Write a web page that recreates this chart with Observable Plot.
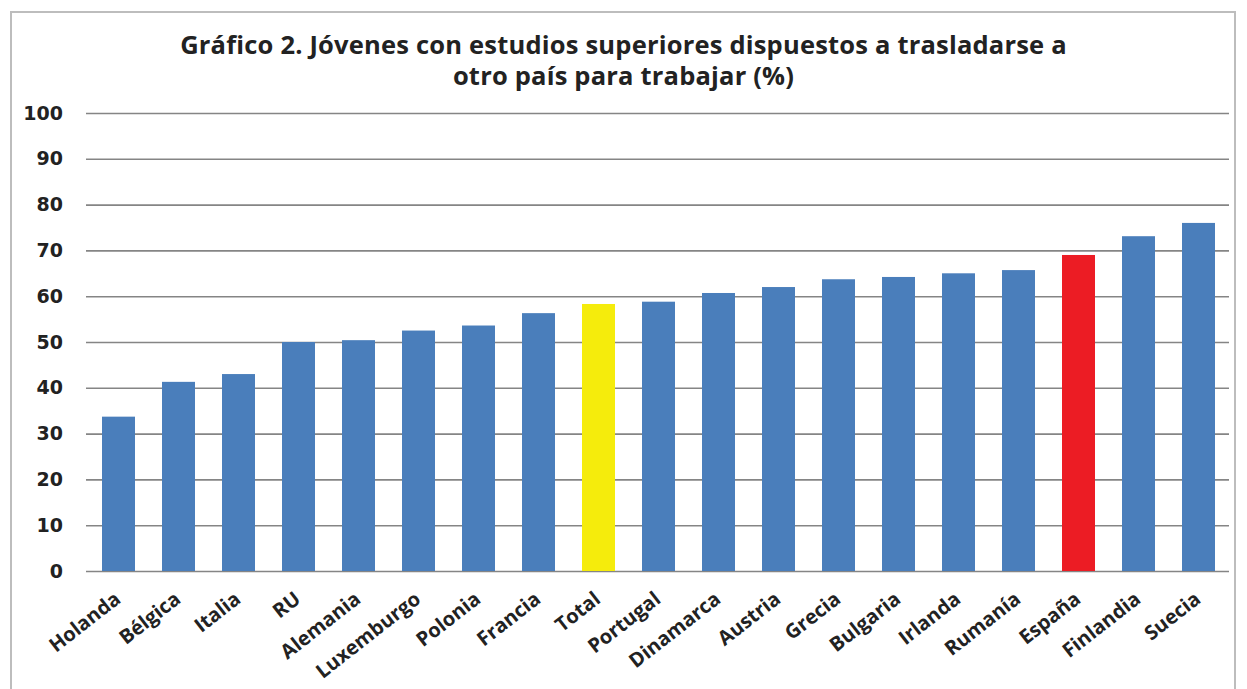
<!DOCTYPE html>
<html>
<head>
<meta charset="utf-8">
<script src="https://cdn.jsdelivr.net/npm/d3@7"></script>
<script src="https://cdn.jsdelivr.net/npm/@observablehq/plot@0.6"></script>
<style>
  html, body { margin: 0; padding: 0; background: #ffffff; }
  #wrap { position: relative; width: 1247px; height: 689px; overflow: hidden; background: #fff; }
  #frame { position: absolute; left: 10px; top: 11px; width: 1226px; height: 700px; border: 2px solid #bdbdbd; box-sizing: border-box; }
  #title { position: absolute; left: 0; top: 0; width: 1247px; height: 100px; text-align: center;
    font-family: "Open Sans", sans-serif; font-weight: 700; font-size: 25.5px; line-height: 31px; color: #222;
    padding-top: 29px; box-sizing: border-box; letter-spacing: 0.2px; }
  #chart { position: absolute; left: 0; top: 100px; }
</style>
</head>
<body>
<div id="wrap">
  <div id="frame"></div>
  <div id="title">Gráfico 2. Jóvenes con estudios superiores dispuestos a trasladarse a<br>otro país para trabajar (%)</div>
  <div id="chart"></div>
</div>
<script>
const countries = ["Holanda","Bélgica","Italia","RU","Alemania","Luxemburgo","Polonia","Francia","Total","Portugal","Dinamarca","Austria","Grecia","Bulgaria","Irlanda","Rumanía","España","Finlandia","Suecia"];
const values = [33.7, 41.3, 43.0, 50.0, 50.4, 52.5, 53.6, 56.3, 58.3, 58.8, 60.7, 62.0, 63.7, 64.2, 65.0, 65.7, 69.0, 73.1, 76.0];
const yTicks = [0,10,20,30,40,50,60,70,80,90,100];
const highlightTotal = "Total";
const highlightSpain = "España";

const data = countries.map((c, i) => ({country: c, value: values[i]}));
const colorOf = d => d.country === highlightTotal ? "#f5ec0c" : d.country === highlightSpain ? "#ec1c24" : "#4a7ebb";

const chart = Plot.plot({
  width: 1247,
  height: 589,
  marginLeft: 87.5,
  marginRight: 18,
  marginTop: 13,
  marginBottom: 118,
  x: { domain: countries, paddingInner: 0.45, paddingOuter: 0.225, axis: null },
  y: { domain: [0, 100], axis: null },
  style: { background: "transparent" },
  marks: [
    Plot.ruleY(yTicks, { stroke: "#858585", strokeWidth: 1.6, insetLeft: -1.5 }),
    Plot.barY(data, { x: "country", y: "value", fill: colorOf }),
    Plot.text(yTicks, { frameAnchor: "left", y: d => d, text: d => String(d), textAnchor: "end",
      dx: -25, fontFamily: "DejaVu Sans", fontWeight: "bold", fontSize: 19, fill: "#222" }),
    Plot.text(data, { x: "country", y: () => 0, text: "country", rotate: -38, textAnchor: "end",
      dx: -1, dy: 25, fontFamily: "Open Sans", fontWeight: "bold", fontSize: 20, fill: "#222" })
  ]
});
document.getElementById("chart").appendChild(chart);
</script>
</body>
</html>
